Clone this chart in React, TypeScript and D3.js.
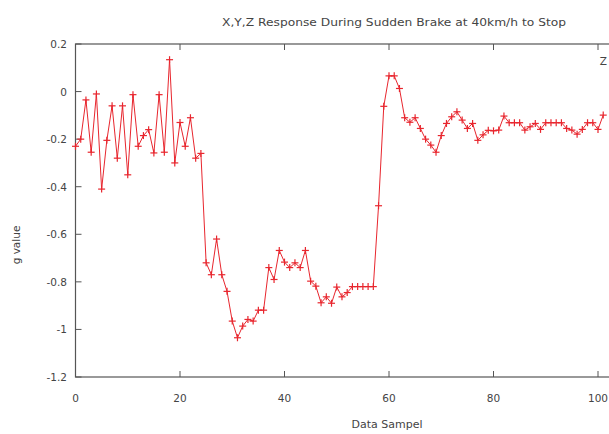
import React, { useEffect, useRef } from "react";
import * as d3 from "d3";

const sampleValues: number[] = [
  -0.23, -0.20, -0.035, -0.255, -0.01, -0.41, -0.205, -0.06, -0.28, -0.06,
  -0.35, -0.013, -0.23, -0.185, -0.16, -0.258, -0.013, -0.255, 0.134, -0.30,
  -0.13, -0.23, -0.11, -0.28, -0.26, -0.72, -0.77, -0.62, -0.77, -0.84,
  -0.965, -1.035, -0.986, -0.958, -0.965, -0.919, -0.919, -0.74, -0.79, -0.668,
  -0.717, -0.74, -0.72, -0.74, -0.668, -0.797, -0.818, -0.888, -0.863, -0.89,
  -0.822, -0.863, -0.845, -0.82, -0.82, -0.82, -0.82, -0.82, -0.48, -0.062,
  0.066, 0.066, 0.013, -0.11, -0.129, -0.11, -0.155, -0.2, -0.225, -0.255,
  -0.185, -0.134, -0.106, -0.085, -0.12, -0.155, -0.134, -0.205, -0.182, -0.163,
  -0.165, -0.162, -0.103, -0.131, -0.131, -0.131, -0.162, -0.148, -0.134, -0.159,
  -0.131, -0.131, -0.131, -0.131, -0.155, -0.162, -0.179, -0.159, -0.131, -0.131,
  -0.159, -0.099,
];
const sampleIndex: number[] = sampleValues.map((_, i) => i);
const xTicks: number[] = [0, 20, 40, 60, 80, 100, 120];
const yTicks: number[] = [0.2, 0, -0.2, -0.4, -0.6, -0.8, -1, -1.2];
const titleText = "X,Y,Z Response During Sudden Brake at 40km/h to Stop";
const xLabel = "Data Sampel";
const yLabel = "g value";
const seriesName = "Z";

const W = 609;
const H = 434;
const FONT = "'DejaVu Sans', Verdana, sans-serif";

export default function App() {
  const ref = useRef<SVGSVGElement>(null);
  useEffect(() => {
    const svg = d3.select(ref.current);
    svg.selectAll("*").remove();
    const left = 75.5;
    const right = 702.5;
    const top = 44;
    const bottom = 377;
    const x = d3.scaleLinear().domain([0, 120]).range([left, right]);
    const y = d3.scaleLinear().domain([-1.2, 0.2]).range([bottom, top]);
    const axisColor = "#555";
    const textColor = "#444";

    svg.append("rect")
      .attr("x", left).attr("y", top)
      .attr("width", right - left).attr("height", bottom - top)
      .attr("fill", "none").attr("stroke", axisColor).attr("stroke-width", 1.2);

    const xt = svg.append("g");
    xTicks.forEach((t) => {
      const px = x(t);
      xt.append("line").attr("x1", px).attr("x2", px).attr("y1", bottom).attr("y2", bottom - 6)
        .attr("stroke", axisColor);
      xt.append("line").attr("x1", px).attr("x2", px).attr("y1", top).attr("y2", top + 6)
        .attr("stroke", axisColor);
      xt.append("text").attr("x", px).attr("y", 402).attr("text-anchor", "middle")
        .attr("font-family", FONT).attr("font-size", 10.5).attr("fill", textColor)
        .text(String(t));
    });

    const yt = svg.append("g");
    yTicks.forEach((t) => {
      const py = y(t);
      yt.append("line").attr("x1", left).attr("x2", left + 6).attr("y1", py).attr("y2", py)
        .attr("stroke", axisColor);
      yt.append("line").attr("x1", right).attr("x2", right - 6).attr("y1", py).attr("y2", py)
        .attr("stroke", axisColor);
      yt.append("text").attr("x", 67).attr("y", py + 4).attr("text-anchor", "end")
        .attr("font-family", FONT).attr("font-size", 10.5).attr("fill", textColor)
        .text(String(Math.round(t * 10) / 10));
    });

    svg.append("text").attr("x", 222).attr("y", 26)
      .attr("textLength", 344).attr("lengthAdjust", "spacingAndGlyphs")
      .attr("font-family", FONT).attr("font-size", 11).attr("fill", textColor).text(titleText);
    svg.append("text").attr("x", 387).attr("y", 428).attr("text-anchor", "middle")
      .attr("font-family", FONT).attr("font-size", 11).attr("fill", textColor).text(xLabel);
    svg.append("text").attr("transform", "translate(20,245) rotate(-90)").attr("text-anchor", "middle")
      .attr("font-family", FONT).attr("font-size", 10.5).attr("fill", textColor).text(yLabel);
    svg.append("text").attr("x", 607).attr("y", 65).attr("text-anchor", "end")
      .attr("font-family", FONT).attr("font-size", 10.5).attr("fill", textColor).text(seriesName);

    const red = "#e8262e";
    const pts: [number, number][] = sampleIndex.map((i) => [i, sampleValues[i]]);
    const line = d3.line<[number, number]>().x((d) => x(d[0])).y((d) => y(d[1]));
    svg.append("path").attr("d", line(pts) || "").attr("fill", "none")
      .attr("stroke", red).attr("stroke-width", 1);
    const m = 3.5;
    const mg = svg.append("g").attr("stroke", red).attr("stroke-width", 1.2);
    pts.forEach((d) => {
      const px = x(d[0]);
      const py = y(d[1]);
      mg.append("line").attr("x1", px - m).attr("x2", px + m).attr("y1", py).attr("y2", py);
      mg.append("line").attr("x1", px).attr("x2", px).attr("y1", py - m).attr("y2", py + m);
    });
  }, []);
  return (
    <svg ref={ref} width={W} height={H}
      style={{ position: "absolute", left: 0, top: 0, background: "#fff", display: "block" }} />
  );
}
